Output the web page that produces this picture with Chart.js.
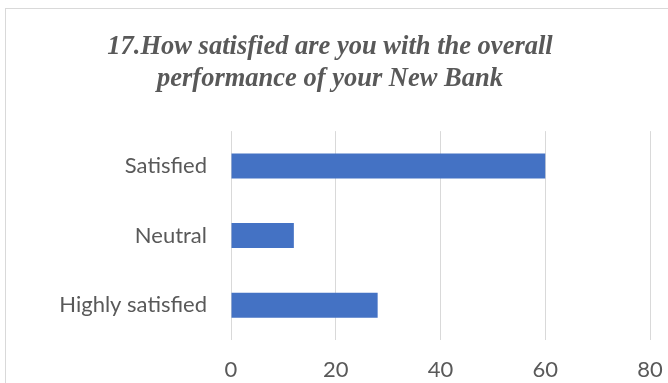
<!DOCTYPE html>
<html>
<head>
<meta charset="utf-8">
<script src="https://cdn.jsdelivr.net/npm/chart.js@4/dist/chart.umd.min.js"></script>
<style>
  html, body { margin: 0; padding: 0; background: #fff; overflow: hidden; width: 668px; height: 383px; }
  #frame { position: absolute; left: 5px; top: 8px; width: 700px; height: 420px; border: 1px solid #d9d9d9; box-sizing: border-box; }
  #wrap { position: absolute; left: 0; top: 0; width: 700px; height: 400px; }
</style>
</head>
<body>
<div id="frame"></div>
<div id="wrap"><canvas id="c" width="700" height="400"></canvas></div>
<script>
// Survey responses
const categories = ['Satisfied', 'Neutral', 'Highly satisfied'];
const responses = [60, 12, 28];
const xTicks = [0, 20, 40, 60, 80];
const titleLines = ['17.How satisfied are you with the overall', 'performance of your New Bank'];

const textGray = '#595959';

new Chart(document.getElementById('c'), {
  type: 'bar',
  data: {
    labels: categories,
    datasets: [{
      data: responses,
      backgroundColor: '#4472c4',
      borderWidth: 0,
      categoryPercentage: 0.36,
      barPercentage: 1
    }]
  },
  options: {
    indexAxis: 'y',
    responsive: false,
    animation: false,
    layout: { padding: { left: 10, right: 50, top: 0, bottom: 20 } },
    plugins: {
      legend: { display: false },
      tooltip: { enabled: false },
      title: {
        display: true,
        text: titleLines,
        color: textGray,
        font: { family: '"Liberation Serif", serif', size: 26.5, weight: 'bold', style: 'italic', lineHeight: 1.21 },
        padding: { top: 31, bottom: 36 }
      }
    },
    scales: {
      x: {
        min: 0,
        max: 80,
        afterBuildTicks: (scale) => { scale.ticks = xTicks.map(v => ({ value: v })); },
        afterFit: (scale) => { scale.height = 40; },
        grid: { color: '#d9d9d9', lineWidth: 1, drawTicks: false },
        border: { display: false },
        ticks: { color: textGray, padding: 17, font: { family: 'Lato, sans-serif', size: 22 } }
      },
      y: {
        afterFit: (scale) => { scale.width = 221; },
        grid: { display: false, drawTicks: false },
        border: { display: false },
        ticks: { color: textGray, padding: 24, font: { family: 'Lato, sans-serif', size: 22 } }
      }
    }
  }
});
</script>
</body>
</html>
